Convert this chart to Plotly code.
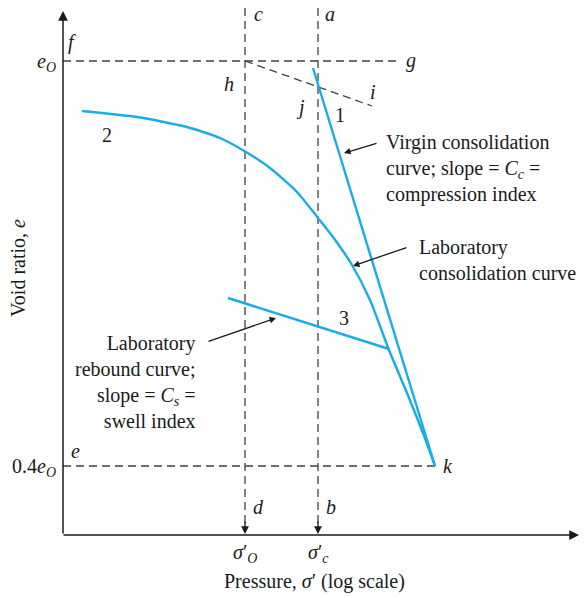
import plotly.graph_objects as go

# Diagram coordinates (schematic: x = log-pressure position, y = void-ratio position, drawn top-down)
X_AXIS_Y = 535
Y_AXIS_X = 63
EO_Y = 61
E04_Y = 466
SIGMA_O_X = 245
SIGMA_C_X = 318

# Laboratory consolidation curve (2)
lab_x = [82, 137, 187, 220, 246, 270, 297, 318, 333, 352, 370, 389, 407, 423, 435]
lab_y = [111, 117, 127, 138, 152, 168, 192, 218, 237, 265, 300, 350, 393, 433, 466]
# Virgin consolidation line (1)
virgin_x = [313, 435]
virgin_y = [68, 466]
# Laboratory rebound curve (3)
rebound_x = [228, 389]
rebound_y = [298, 349]
# Construction line h-i
hi_x = [245, 372]
hi_y = [61, 106]

BLUE = "#17ade6"
DASH = "#404040"
FONT = "Liberation Serif"
FS = 20

fig = go.Figure()

def dashed(x, y):
    fig.add_trace(go.Scatter(x=x, y=y, mode="lines",
                             line=dict(color=DASH, width=1.3, dash="8px,5px"),
                             hoverinfo="skip", showlegend=False))

dashed([Y_AXIS_X, 400], [EO_Y, EO_Y])
dashed([Y_AXIS_X, 435], [E04_Y, E04_Y])
dashed([SIGMA_O_X, SIGMA_O_X], [8, 526])
dashed([SIGMA_C_X, SIGMA_C_X], [8, 526])
dashed(hi_x, hi_y)

for xs, ys in [(lab_x, lab_y), (virgin_x, virgin_y), (rebound_x, rebound_y)]:
    fig.add_trace(go.Scatter(x=xs, y=ys, mode="lines",
                             line=dict(color=BLUE, width=2.4, shape="spline" if len(xs) > 2 else "linear", smoothing=0.6),
                             hoverinfo="skip", showlegend=False))

anns = []
def arrow(x0, y0, x1, y1, size=1.0, width=1.3, head=2):
    anns.append(dict(x=x1, y=y1, ax=x0, ay=y0, xref="x", yref="y", axref="x", ayref="y",
                     showarrow=True, arrowhead=head, arrowsize=size, arrowwidth=width,
                     arrowcolor="#1a1a1a", text=""))

# axes
arrow(Y_AXIS_X, X_AXIS_Y, Y_AXIS_X, 11, size=1.3, width=1.5)
arrow(Y_AXIS_X - 1, X_AXIS_Y, 579, X_AXIS_Y, size=1.3, width=1.5)
# arrowheads on dashed verticals
arrow(SIGMA_O_X, 520, SIGMA_O_X, 534, size=1.2, width=1.3)
arrow(SIGMA_C_X, 520, SIGMA_C_X, 534, size=1.2, width=1.3)
# callout arrows
arrow(378, 143, 344, 153)
arrow(408, 247, 353, 266)
arrow(207, 342, 276, 318)

def txt(x, y, s, size=FS, xanchor="center", align="center", italic=False):
    if italic:
        s = "<i>" + s + "</i>"
    anns.append(dict(x=x, y=y, xref="x", yref="y", text=s, showarrow=False,
                     xanchor=xanchor, yanchor="middle", align=align,
                     font=dict(family=FONT, size=size, color="#1a1a1a")))

txt(72, 42, "f", italic=True)
txt(58, 62, "<i>e<sub>O</sub></i>", xanchor="right")
txt(411, 60, "g", italic=True)
txt(258, 14, "c", italic=True)
txt(330, 14, "a", italic=True)
txt(229, 84, "h", italic=True)
txt(373, 92, "i", italic=True)
txt(300, 107, "j", italic=True)
txt(340, 115, "1")
txt(107, 135, "2")
txt(344, 318, "3")
txt(75, 451, "e", italic=True)
txt(58, 467, "0.4<i>e<sub>O</sub></i>", xanchor="right")
txt(258, 507, "d", italic=True)
txt(331, 507, "b", italic=True)
txt(448, 466, "k", italic=True)
txt(245, 553, "<i>σ</i>′<sub><i>O</i></sub>")
txt(318, 553, "<i>σ</i>′<sub><i>c</i></sub>")
txt(314, 581, "Pressure, <i>σ</i>′ (log scale)")
txt(384, 168, "Virgin consolidation<br>curve; slope = <i>C<sub>c</sub></i> =<br>compression index",
    xanchor="left", align="left")
txt(417, 260, "Laboratory<br>consolidation curve", xanchor="left", align="left")
txt(198, 382, "Laboratory<br>rebound curve;<br>slope = <i>C<sub>s</sub></i> =<br>swell index",
    xanchor="right", align="right")
anns.append(dict(x=18, y=268, xref="x", yref="y", text="Void ratio, <i>e</i>", showarrow=False,
                 textangle=-90, font=dict(family=FONT, size=FS, color="#1a1a1a")))

fig.update_layout(
    width=585, height=598, margin=dict(l=0, r=0, t=0, b=0),
    paper_bgcolor="white", plot_bgcolor="white",
    xaxis=dict(range=[0, 585], visible=False, fixedrange=True),
    yaxis=dict(range=[598, 0], visible=False, fixedrange=True),
    annotations=anns, showlegend=False,
)
fig.write_html("out.html", config={"displayModeBar": False},
               post_script="document.body.style.margin='0px';")
